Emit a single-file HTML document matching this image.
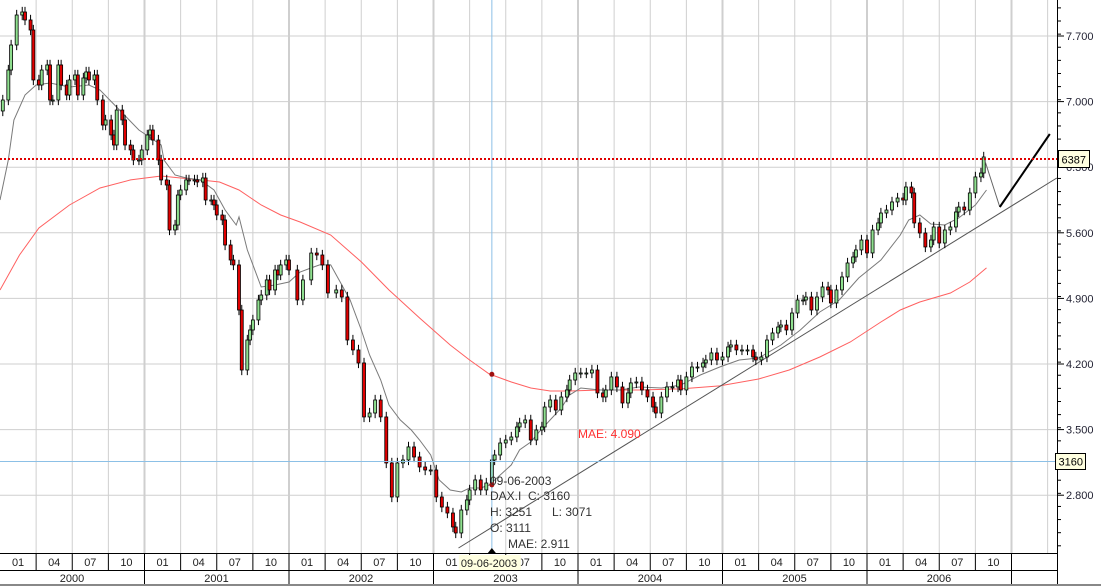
<!DOCTYPE html>
<html><head><meta charset="utf-8"><style>
html,body{margin:0;padding:0;background:#fff;}
svg{display:block;font-family:"Liberation Sans",sans-serif;}
</style></head><body>
<svg id="chart" width="1101" height="586" viewBox="0 0 1101 586" xmlns="http://www.w3.org/2000/svg">
<rect x="0" y="0" width="1101" height="586" fill="#fff"/>
<g id="grid"></g>
<g id="ma"></g>
<g id="candles"></g>
<g id="overlay"></g>
<g id="axis"></g>
<g id="xaxis"></g>
</svg>
<script>
const weeks=[1,3,4,6,8,9,11,12,14,15,17,18,19,21,22,24,25,27,28,30,31,32,34,35,37,38,40,41,42,44,45,47,48,50,51,53,54,55,57,58,60,61,63,64,65,67,68,70,71,73,74,76,77,78,80,81,83,84,86,87,89,90,91,93,94,96,97,99,100,101,103,
104,107,109,112,114,116,118,121,123,125,127,129,131,133,135,137,139,141,143,145,147,149,151,153,155,157,159,161,163,164,166,168,169,171,173,175,177,178,180,182,184,186,187,189,191,193,195,196,198,200,202,204,205,207,209,211,213,215,217,218,220,222,224,226,227,229,231,233,235,236,238,240,242,244,245,247,249,251,253,254,256,258,260,262,263,265,267,269,271,272,274,276,278,280,281,283,285,287,289,290,292,294,296,298,299,301,303,305,307,308,310,312,314,316,317,319,321,323,325,326,328,329,331,333,335,336,338,340,342,344,345,347,349,351,353,354];
const closes=[7017,7337,7604,7924,7956,7871,7764,7231,7177,7337,7391,7017,7017,7391,7177,7070,7231,7284,7070,7252,7316,7231,7284,7017,6750,6804,6644,6537,6910,6804,6537,6484,6377,6377,6484,6644,6697,6590,6377,6164,6110,5630,5683,6003,6057,6164,6164,6164,6142,6185,5950,5950,5897,5790,5737,5470,5310,5257,4776,4136,4456,4563,4670,4883,4936,5097,4990,5203,5150,5257,5310,
5203,4883,5097,5384,5363,5257,4958,4990,4915,4456,4350,4211,3635,3677,3816,3635,3144,2781,3144,3176,3315,3208,3101,3069,3069,2781,2674,2610,2461,2397,2642,2749,2856,2963,2856,2930,3176,3229,3357,3389,3421,3528,3571,3603,3389,3496,3528,3741,3816,3709,3848,3923,4029,4104,4104,4104,4136,3891,3848,3923,4062,3955,3784,3891,3998,4008,3923,3848,3741,3677,3848,3955,3955,4029,3923,4062,4168,4168,4211,4243,4318,4243,4275,4382,4403,4350,4350,4350,4275,4243,4275,4456,4531,4595,4616,4563,4744,4883,4883,4915,4776,4915,5022,4990,4851,4990,5129,5278,5342,5417,5523,5385,5630,5705,5811,5843,5929,5971,5950,6089,6025,5705,5598,5449,5523,5662,5491,5630,5662,5822,5875,5843,6025,6196,6238,6409];
const firstOpen=6900;
const maLongWeeks=[0,7,14,25,36,47,58,65,72,79,86,94,101,108,119,130,140,151,162,169,176,184,191,198,205,216,230,245,259,273,284,295,306,317,324,331,342,349,355];
const maLongValues=[4990,5363,5651,5897,6078,6164,6206,6185,6164,6142,6057,5897,5790,5715,5577,5289,4990,4691,4403,4243,4094,4008,3944,3912,3912,3923,3923,3934,3966,4040,4136,4275,4435,4648,4776,4862,4958,5075,5225];
const maShortWeeks=[0,3,5,9,13,18,25,32,36,43,50,58,59,63,67,72,77,81,85,86,89,94,99,104,108,112,115,119,122,126,130,133,137,140,144,148,151,155,158,162,166,169,173,176,180,184,187,191,194,198,202,205,209,216,223,230,238,245,252,259,266,273,281,288,295,302,309,317,324,327,331,335,340,345,351,355];
const maShortValues=[5950,6377,6804,7070,7177,7199,7156,7177,7124,6910,6697,6537,6377,6217,6185,6164,6057,5843,5683,5770,5417,5022,5043,5075,5182,5225,5257,5257,5097,4883,4563,4296,4029,3763,3603,3496,3389,3229,2963,2856,2834,2877,2877,2909,3016,3123,3283,3368,3475,3603,3731,3870,3944,3923,3923,3955,3944,3976,4083,4168,4243,4264,4403,4563,4755,4883,5118,5310,5577,5737,5790,5694,5683,5758,5897,6057];
const yTicks=[7700,7000,6300,5600,4900,4200,3500,2800];
const yTickLabels=["7.700","7.000","6.300","5.600","4.900","4.200","3.500","2.800"];
const years=["2000","2001","2002","2003","2004","2005","2006"];
const months=["01","04","07","10"];
const trendWeeks=[165,380.3];
const trendValues=[2237,6185];
const forecastWeeks=[354,359.8,377.8];
const forecastValues=[6409,5875,6654];
const lastPrice=6387;
const cursorWeek=177;
const cursorPrice=3160;
const cursorMAE=2911;
const cursorLongMAE=4090;

const NS="http://www.w3.org/2000/svg";
const PW=1057, PH=553, WICK=55;
function xS(w){return w*144.5/52;}
function yS(p){return 36+(7700-p)*0.093714;}
function mk(tag,attrs,parent){const e=document.createElementNS(NS,tag);for(const k in attrs)e.setAttribute(k,attrs[k]);parent.appendChild(e);return e;}
const grid=document.getElementById('grid'),ma=document.getElementById('ma'),cg=document.getElementById('candles'),ov=document.getElementById('overlay'),ax=document.getElementById('axis'),xa=document.getElementById('xaxis');

for(let q=1;q*144.5/4<PW;q++){const x=q*144.5/4;const l=mk('line',{x1:x,y1:0,x2:x,y2:PH,stroke:'#cfcfcf','stroke-width':q%4==0?2:1},grid);

}
yTicks.forEach(v=>{const y=yS(v);const l=mk('line',{x1:0,y1:y,x2:PW,y2:y,stroke:'#cfcfcf','stroke-width':1},grid);

});

function poly(ws,vs,color,w,name,parent){const pts=ws.map((wk,i)=>xS(wk).toFixed(1)+','+yS(vs[i]).toFixed(1)).join(' ');const p=mk('polyline',{points:pts,fill:'none',stroke:color,'stroke-width':w},parent);

return p;}
poly(maLongWeeks,maLongValues,'#ff6060',1,'long-moving-average',ma);
poly(maShortWeeks,maShortValues,'#7a7a7a',1,'short-moving-average',ma);
poly(trendWeeks,trendValues,'#555',1,'trend-line',ma);

closes.forEach((c,i)=>{const o=i==0?firstOpen:closes[i-1];const x=xS(weeks[i]);const hi=Math.max(o,c)+WICK,lo=Math.min(o,c)-WICK;
const g=mk('g',{},cg);


mk('line',{x1:x,y1:yS(hi),x2:x,y2:yS(lo),stroke:'#000','stroke-width':1},g);
const top=yS(Math.max(o,c)),bot=yS(Math.min(o,c));
mk('rect',{x:x-1.5,y:top,width:3,height:Math.max(1,bot-top),fill:c>=o?'#8fe08f':'#e00000',stroke:'#000','stroke-width':0.8},g);});

poly(forecastWeeks.slice(0,2),forecastValues.slice(0,2),'#666',1,'forecast-drop-line',ov);
poly(forecastWeeks.slice(1),forecastValues.slice(1),'#000',2,'forecast-rise-line',ov);

const ly=yS(lastPrice);
const ll=mk('line',{x1:0,y1:ly,x2:PW,y2:ly,stroke:'#e00000','stroke-width':2,'stroke-dasharray':'2,2'},ov);



const cx=xS(cursorWeek),cy=yS(cursorPrice);
const vl=mk('line',{x1:cx,y1:0,x2:cx,y2:PH,stroke:'#8cc0e6','stroke-width':1},ov);


const hl=mk('line',{x1:0,y1:cy,x2:PW,y2:cy,stroke:'#8cc0e6','stroke-width':1},ov);


const d1=mk('circle',{cx:cx,cy:yS(cursorLongMAE),r:2.5,fill:'#a01010'},ov);


const d2=mk('circle',{cx:cx,cy:yS(cursorMAE),r:2.5,fill:'#a01010'},ov);


const tip=[["09-06-2003",490,485],["DAX.I",490,500],["C: 3160",528,500],["H: 3251",490,516],["L: 3071",552,516],["O: 3111",490,532],["MAE: 2.911",508,548]];
tip.forEach(t=>{const e=mk('text',{x:t[1],y:t[2],'font-size':12,fill:'#333'},ov);e.textContent=t[0];

});
const mt=mk('text',{x:578,y:438,'font-size':12,fill:'#ff3030'},ov);mt.textContent='MAE: 4.090';



const al=mk('line',{x1:PW+0.5,y1:0,x2:PW+0.5,y2:PH,stroke:'#000','stroke-width':1},ax);


for(let v=8000;v>=2100;v-=140){const y=yS(v);mk('line',{x1:PW,y1:y,x2:PW+4,y2:y,stroke:'#000','stroke-width':1},ax);}
yTicks.forEach((v,i)=>{const y=yS(v);mk('line',{x1:PW,y1:y,x2:PW+7,y2:y,stroke:'#000','stroke-width':1},ax);
const t=mk('text',{x:1066,y:y+4,'font-size':11,fill:'#223'},ax);t.textContent=yTickLabels[i];

});
function box(x,y,w,h,txt,name){const g=mk('g',{},ax);


mk('rect',{x:x,y:y,width:w,height:h,fill:'#ffffe0',stroke:'#000','stroke-width':1},g);
const t=mk('text',{x:x+3,y:y+h-4,'font-size':11,fill:'#000'},g);t.textContent=txt;}
box(1058.5,150.5,31,17,String(lastPrice),'last-price-label');
box(1055.5,453.5,30,16,String(cursorPrice),'cursor-price-label');

mk('rect',{x:0,y:553,width:1101,height:33,fill:'#fff'},xa);
mk('line',{x1:0,y1:553.5,x2:PW,y2:553.5,stroke:'#000'},xa);
mk('line',{x1:0,y1:570.5,x2:PW,y2:570.5,stroke:'#000'},xa);
mk('rect',{x:0,y:584,width:1101,height:2,fill:'#888'},xa);
for(let q=0;q<29;q++){const x0=q*144.5/4,x1=Math.min(PW,x0+144.5/4);
if(x0>0)mk('line',{x1:x0,y1:553,x2:x0,y2:570,stroke:'#000'},xa);
if(q<28){const t=mk('text',{x:(x0+x1)/2,y:566,'font-size':11,fill:'#222','text-anchor':'middle'},xa);t.textContent=months[q%4];

}}
mk('line',{x1:PW+0.5,y1:553,x2:PW+0.5,y2:584,stroke:'#000'},xa);
years.forEach((yr,i)=>{const x0=i*144.5;if(i>0)mk('line',{x1:x0,y1:570,x2:x0,y2:584,stroke:'#000'},xa);
const t=mk('text',{x:x0+72,y:582,'font-size':11,fill:'#222','text-anchor':'middle'},xa);t.textContent=yr;

});
mk('line',{x1:1011.5,y1:570,x2:1011.5,y2:584,stroke:'#000'},xa);
const db=mk('g',{},xa);


mk('rect',{x:cx-33,y:555,width:62,height:15,fill:'#ffffe0'},db);
const dt=mk('text',{x:cx-31,y:567,'font-size':11,fill:'#222'},db);dt.textContent='09-06-2003';
mk('polygon',{points:(cx-4)+',553 '+(cx+4)+',553 '+cx+',548',fill:'#000'},db);
</script>
</body></html>
